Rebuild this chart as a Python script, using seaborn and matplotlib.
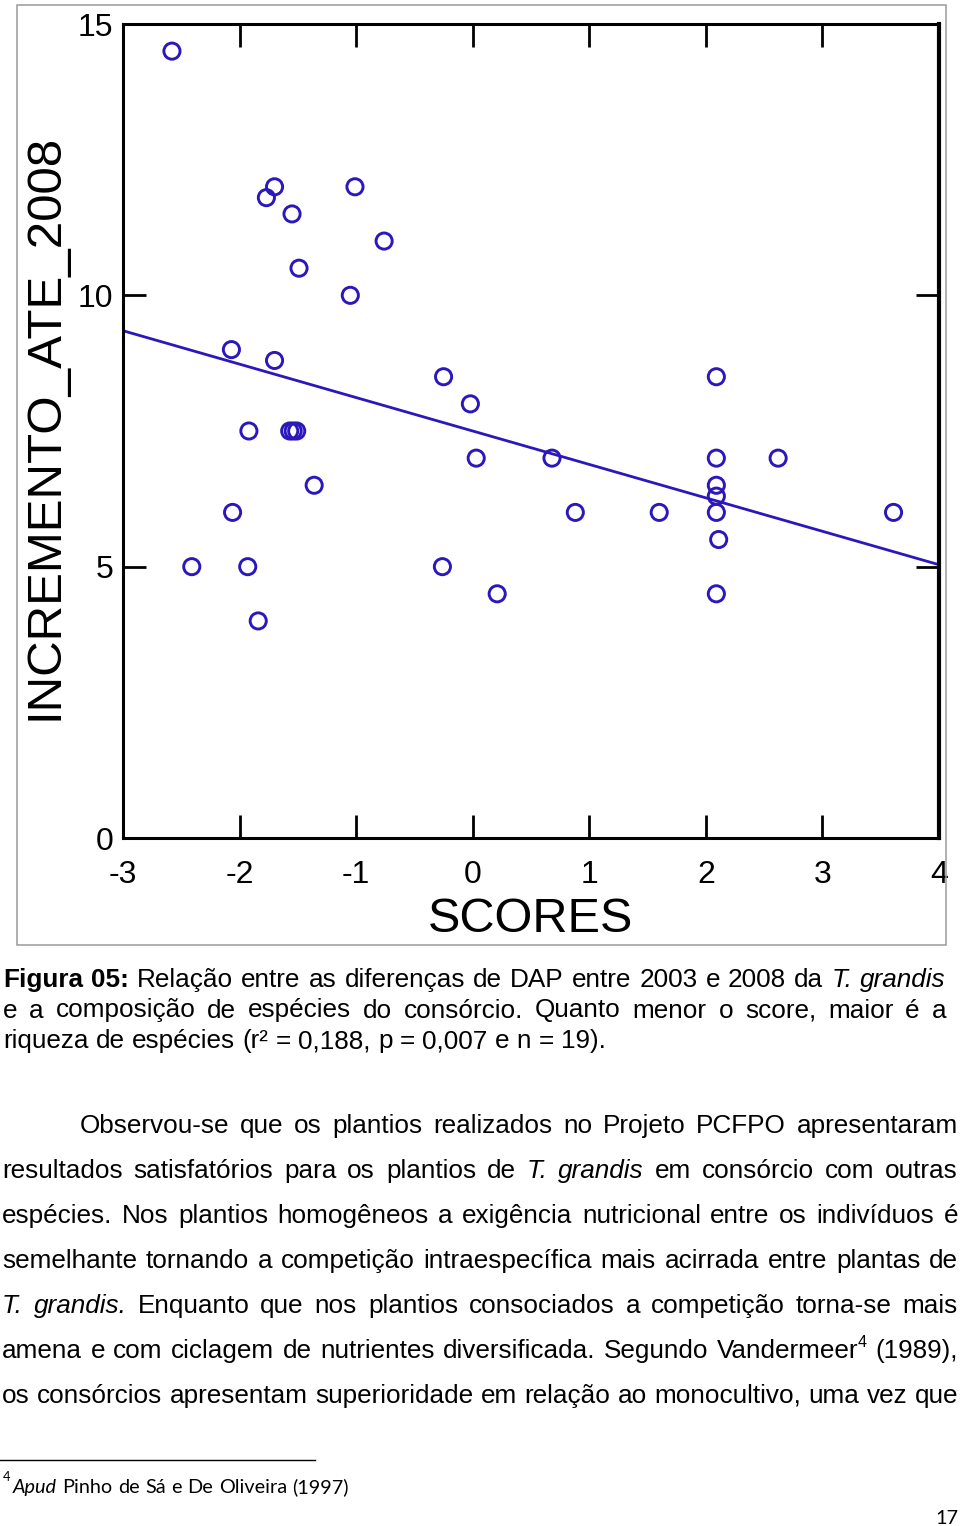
import re
import numpy as np
import pandas as pd
import matplotlib
matplotlib.use("Agg")
import matplotlib.pyplot as plt
import seaborn as sns
from matplotlib.transforms import IdentityTransform
from matplotlib.patches import Rectangle
from matplotlib.lines import Line2D

plt.rcParams['font.family'] = ['Liberation Sans', 'DejaVu Sans']
plt.rcParams['axes.unicode_minus'] = False

# pontos
scores = [-2.58, -2.41, -2.07, -2.06, -1.92, -1.93, -1.84, -1.77, -1.70, -1.70,
          -1.55, -1.57, -1.54, -1.51, -1.49, -1.36, -1.05, -1.01, -0.76, -0.26,
          -0.25, -0.02, 0.03, 0.21, 0.68, 0.88, 1.60, 2.09, 2.09, 2.09,
          2.09, 2.09, 2.11, 2.09, 2.62, 3.61]
incremento = [14.5, 5.0, 9.0, 6.0, 7.5, 5.0, 4.0, 11.8, 12.0, 8.8,
              11.5, 7.5, 7.5, 7.5, 10.5, 6.5, 10.0, 12.0, 11.0, 5.0,
              8.5, 8.0, 7.0, 4.5, 7.0, 6.0, 6.0, 8.5, 7.0, 6.5,
              6.3, 6.0, 5.5, 4.5, 7.0, 6.0]

# reta de regressão (intercepto e inclinação lidos)
intercepto = 7.50
inclinacao = -0.616
x_range = [-3, 4]

x_ticks = [-3, -2, -1, 0, 1, 2, 3, 4]
y_ticks = [0, 5, 10, 15]

legenda = [
    "#Figura# #05:# Relação entre as diferenças de DAP entre 2003 e 2008 da *T.* *grandis*",
    "e a composição de espécies do consórcio. Quanto menor o score, maior é a",
    "riqueza de espécies (r² = 0,188, p = 0,007 e n = 19).",
]
paragrafo = [
    "Observou-se que os plantios realizados no Projeto PCFPO apresentaram",
    "resultados satisfatórios para os plantios de *T.* *grandis* em consórcio com outras",
    "espécies. Nos plantios homogêneos a exigência nutricional entre os indivíduos é",
    "semelhante tornando a competição intraespecífica mais acirrada entre plantas de",
    "*T.* *grandis.* Enquanto que nos plantios consociados a competição torna-se mais",
    "amena e com ciclagem de nutrientes diversificada. Segundo Vandermeer^4 (1989),",
    "os consórcios apresentam superioridade em relação ao monocultivo, uma vez que",
]

BLUE = "#2a18bc"
W, H = 960, 1526

fig = plt.figure(figsize=(W / 100, H / 100), dpi=100)
fig.patch.set_facecolor("white")
renderer = fig.canvas.get_renderer()

# moldura cinza em volta do gráfico
fig.patches.append(Rectangle((17, H - 945), 929, 940, transform=IdentityTransform(),
                             fill=False, edgecolor="#9a9a9a", linewidth=1.1, zorder=5))

ax = fig.add_axes([123 / W, (H - 838) / H, 816 / W, 814 / H])
df = pd.DataFrame({"SCORES": scores, "INCREMENTO_ATE_2008": incremento})
sns.scatterplot(data=df, x="SCORES", y="INCREMENTO_ATE_2008", ax=ax, marker="o", s=135,
                facecolors="none", edgecolor=BLUE, linewidth=2.1, zorder=3)
fit = pd.DataFrame({"x": x_range})
fit["y"] = intercepto + inclinacao * fit["x"]
sns.lineplot(data=fit, x="x", y="y", ax=ax, color=BLUE, linewidth=2.0, zorder=2)

ax.set_xlim(-3, 4)
ax.set_ylim(0, 15)
ax.set_xticks(x_ticks)
ax.set_yticks(y_ticks)
ax.tick_params(direction="in", top=True, right=True, length=16.5, width=2.0,
               labelsize=23, color="black")
ax.tick_params(axis="x", pad=16)
ax.tick_params(axis="y", pad=7)
for sp in ax.spines.values():
    sp.set_linewidth(2.2)
    sp.set_color("black")
ax.spines["right"].set_linewidth(3.0)
ax.set_xlabel("SCORES", fontsize=35)
ax.set_ylabel("INCREMENTO_ATE_2008", fontsize=35.5)
ax.xaxis.set_label_coords(0.499, -0.100)
ax.xaxis.label.set_va("center")
ax.yaxis.set_label_coords((45 - 123) / 816, 0.505)
ax.yaxis.label.set_va("center")


def parse_word(word):
    segs = []
    for part in re.split(r"(\*[^*]+\*|#[^#]+#|\^\w+)", word):
        if not part:
            continue
        if part.startswith("*"):
            segs.append((part[1:-1], {"style": "italic"}))
        elif part.startswith("#"):
            segs.append((part[1:-1], {"weight": "bold"}))
        elif part.startswith("^"):
            segs.append((part[1:], {"sup": True}))
        else:
            segs.append((part, {}))
    return segs


def draw_line(line, base_y, x0, x1, size, family, justify=True):
    words = [parse_word(w) for w in line.split(" ")]
    objs, widths = [], []
    for word in words:
        parts, w = [], 0.0
        for txt, opt in word:
            fs = size * 0.62 if opt.get("sup") else size
            t = fig.text(0, 0, txt, transform=IdentityTransform(), fontsize=fs,
                         family=family, fontstyle=opt.get("style", "normal"),
                         fontweight=opt.get("weight", "normal"), va="baseline", ha="left")
            ww = t.get_window_extent(renderer).width
            parts.append((t, w, opt))
            w += ww
        objs.append(parts)
        widths.append(w)
    if justify and len(words) > 1:
        gap = (x1 - x0 - sum(widths)) / (len(words) - 1)
    else:
        gap = 0.278 * size * 100 / 72
    x = x0
    for parts, w in zip(objs, widths):
        for t, off, opt in parts:
            dy = size * 100 / 72 * 0.42 if opt.get("sup") else 0
            t.set_position((x + off, H - base_y + dy))
        x += w + gap


def natural_width(line, size, family):
    t = fig.text(0, 0, line.replace("*", "").replace("#", ""), transform=IdentityTransform(),
                 fontsize=size, family=family)
    w = t.get_window_extent(renderer).width
    t.remove()
    return w


# legenda da figura
cap_family = ["Liberation Sans"]
cap_size = 10 * 603 / natural_width(legenda[2], 10, cap_family)
for i, line in enumerate(legenda):
    draw_line(line, 987 + 30.5 * i, 3, 946, cap_size, cap_family, justify=(i < 2))

# texto do corpo
body_family = ["Liberation Sans"]
for i, line in enumerate(paragrafo):
    x0 = 80 if i == 0 else 2
    draw_line(line, 1133 + 45 * i, x0, 958, 18.8, body_family, justify=True)

# nota de rodapé
fn_family = ["Lato", "DejaVu Sans"]
fig.lines.append(Line2D([0, 315], [H - 1460, H - 1460], transform=IdentityTransform(),
                        color="black", linewidth=1.0))
fn_text = "Apud Pinho de Sá e De Oliveira (1997)"
fn_size = 10 * 335 / natural_width(fn_text, 10, fn_family)
fig.text(3, H - 1481, "4", transform=IdentityTransform(), fontsize=fn_size * 0.65,
         family=fn_family, va="baseline")
draw_line("*Apud* Pinho de Sá e De Oliveira (1997)", 1493, 13, 348, fn_size, fn_family,
          justify=False)
fig.text(958, H - 1524, "17", transform=IdentityTransform(), fontsize=fn_size,
         family=fn_family, va="baseline", ha="right")

fig.savefig("out.png", dpi=100, facecolor="white")
